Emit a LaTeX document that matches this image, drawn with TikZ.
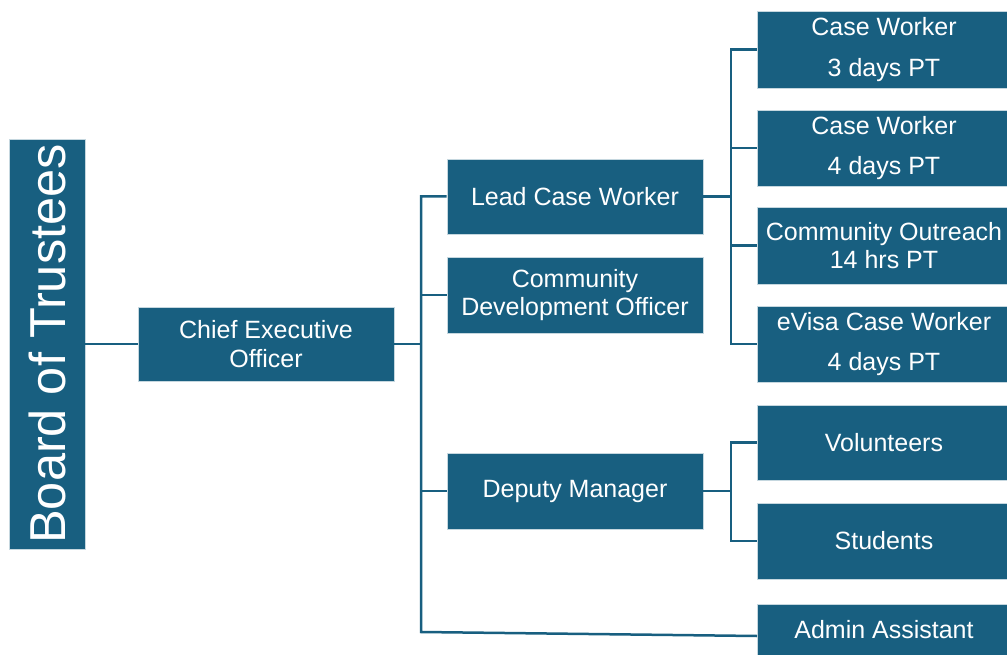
\documentclass[tikz,border=0pt]{standalone}
\usepackage{fontspec}
\setmainfont{Liberation Sans}
\definecolor{teal1}{HTML}{185F80}
\begin{document}
\begin{tikzpicture}[x=1pt,y=-1pt,
  box/.style={fill=teal1, draw=white!75!teal1, line width=0.6pt, text=white, align=center,
    font=\fontsize{25}{28.5}\selectfont, inner sep=0pt},
  conn/.style={draw=teal1, line width=2.5pt}]
\useasboundingbox (0,0) rectangle (1007,655);
\node[box, minimum width=410, minimum height=76, rotate=90, font=\fontsize{50.5}{56}\selectfont] (board) at (47,344) {Board of Trustees};
\node[box, minimum width=256, minimum height=74] (ceo) at (266,344) {Chief Executive\\Officer};
\node[box, minimum width=256, minimum height=75] (lcw) at (575,196.5) {Lead Case Worker};
\node[box, minimum width=256, minimum height=76] (cdo) at (575,295) {Community\\Development Officer};
\node[box, minimum width=256, minimum height=76] (dm) at (575,491) {Deputy Manager};
\node[box, minimum width=254, minimum height=77] (cw3) at (884,49.5) {Case Worker\\[12pt]3 days PT};
\node[box, minimum width=254, minimum height=76] (cw4) at (884,148) {Case Worker\\[12pt]4 days PT};
\node[box, minimum width=254, minimum height=77] (co) at (884,245.5) {Community Outreach\\14 hrs PT};
\node[box, minimum width=254, minimum height=76] (ev) at (884,344) {eVisa Case Worker\\[12pt]4 days PT};
\node[box, minimum width=254, minimum height=75] (vol) at (884,442.5) {Volunteers};
\node[box, minimum width=254, minimum height=76] (stu) at (884,541) {Students};
\node[box, minimum width=254, minimum height=52] (admin) at (884,630) {Admin Assistant};
\coordinate (t1) at (421,344);
\coordinate (tb) at (421,632);
\coordinate (aa) at (757,636);
\coordinate (t2) at (731,196.5);
\coordinate (t3) at (731,491);
\draw[conn] (board) -- (ceo);
\draw[conn] (ceo.east) -- (t1);
\draw[conn] (lcw.west) -- (lcw.west -| t1) -- (tb) -- (aa);
\draw[conn] (cdo.west) -- (cdo.west -| t1);
\draw[conn] (dm.west) -- (dm.west -| t1);
\draw[conn] (lcw.east) -- (t2);
\draw[conn] (cw3.west) -- (cw3.west -| t2) -- (ev.west -| t2) -- (ev.west);
\draw[conn] (cw4.west) -- (cw4.west -| t2);
\draw[conn] (co.west) -- (co.west -| t2);
\draw[conn] (dm.east) -- (t3);
\draw[conn] (vol.west) -- (vol.west -| t3) -- (stu.west -| t3) -- (stu.west);
\end{tikzpicture}
\end{document}
